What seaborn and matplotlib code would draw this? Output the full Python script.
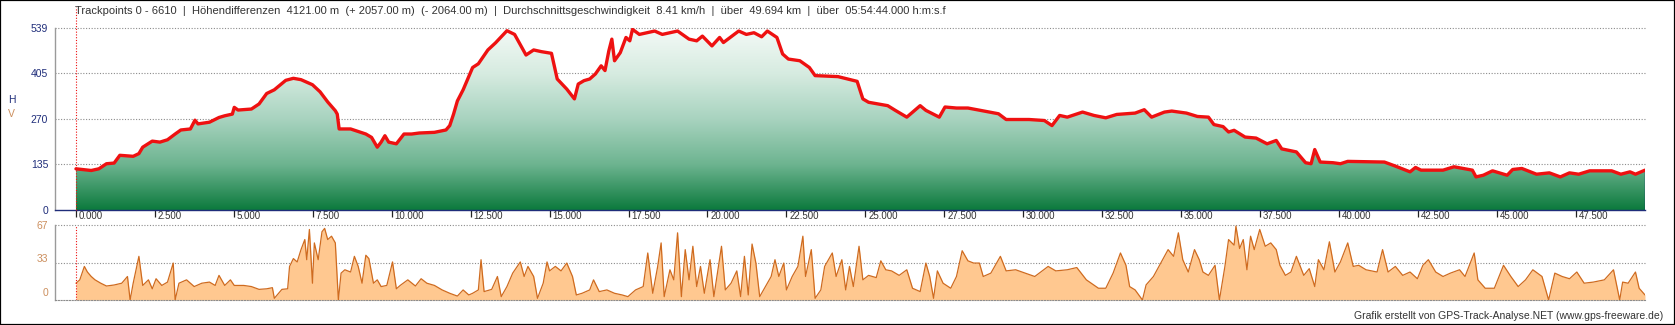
import numpy as np
import matplotlib
matplotlib.use('Agg')
import matplotlib.pyplot as plt
import seaborn as sns
from matplotlib.colors import LinearSegmentedColormap
from matplotlib.patches import Rectangle
import matplotlib.transforms as mtransforms

# ---------------- data ----------------
title_text = ("Trackpoints 0 - 6610  |  Höhendifferenzen  4121.00 m  (+ 2057.00 m)  (- 2064.00 m)  |  "
              "Durchschnittsgeschwindigkeit  8.41 km/h  |  über  49.694 km  |  über  05:54:44.000 h:m:s.f")
footer_text = "Grafik erstellt von GPS-Track-Analyse.NET (www.gps-freeware.de)"

# elevation profile: distance (m), height (m)
dist_e = [0, 483, 725, 966, 1208, 1389, 1812, 1993, 2114, 2416,
          2658, 2899, 3141, 3322, 3624, 3769, 3866, 4228, 4530, 4711,
          4953, 5013, 5134, 5557, 5798, 6040, 6282, 6644, 6886, 7127,
          7490, 7731, 7973, 8214, 8275, 8335, 8698, 9181, 9362, 9543,
          9664, 9785, 9905, 10147, 10389, 10630, 10872, 11355, 11718, 11838,
          11959, 12080, 12262, 12563, 12744, 13046, 13288, 13650, 13892, 14254,
          14496, 14738, 15060, 15242, 15545, 15787, 15908, 16089, 16271, 16452,
          16634, 16755, 16876, 16972, 17057, 17239, 17420, 17541, 17626, 17844,
          18086, 18328, 18570, 19054, 19417, 19659, 19840, 20143, 20385, 20506,
          20990, 21232, 21474, 21716, 21897, 22200, 22381, 22563, 22926, 23228,
          23410, 24136, 24741, 24922, 25104, 25709, 25951, 26314, 26737, 26919,
          27342, 27524, 27887, 28250, 29218, 29460, 30186, 30670, 30912, 31155,
          31397, 31880, 32243, 32616, 32964, 33545, 33835, 34067, 34474, 34706,
          35170, 35519, 35867, 36041, 36331, 36505, 36680, 37028, 37376, 37725,
          38015, 38189, 38653, 38944, 39118, 39234, 39408, 39815, 40047, 40279,
          41440, 41788, 42252, 42426, 42600, 43297, 43645, 44226, 44342, 44574,
          44865, 45329, 45503, 45793, 46258, 46664, 47012, 47303, 47593, 47942,
          48638, 48929, 49219, 49393, 49694]
elev = [122, 117, 122, 137, 139, 162, 159, 167, 186, 204,
        201, 208, 225, 237, 240, 266, 255, 260, 274, 279,
        284, 304, 296, 299, 314, 345, 356, 384, 390, 386,
        371, 350, 320, 294, 284, 240, 240, 225, 215, 186,
        201, 220, 201, 196, 225, 225, 228, 230, 237, 250,
        284, 323, 356, 422, 433, 474, 495, 531, 520, 459,
        474, 469, 464, 388, 358, 329, 373, 383, 388, 403,
        427, 413, 471, 506, 442, 466, 511, 501, 535, 520,
        525, 530, 520, 530, 506, 501, 515, 486, 511, 496,
        530, 520, 525, 513, 530, 511, 462, 447, 442, 422,
        398, 395, 381, 329, 319, 309, 295, 275, 309, 295,
        275, 305, 302, 302, 285, 268, 268, 265, 250, 280,
        275, 290, 280, 273, 283, 287, 297, 275, 290, 293,
        287, 277, 275, 253, 247, 231, 236, 216, 213, 196,
        206, 181, 172, 140, 137, 179, 142, 140, 137, 144,
        142, 130, 113, 126, 118, 118, 128, 118, 98, 103,
        116, 103, 120, 123, 106, 110, 98, 110, 106, 116,
        116, 106, 113, 106, 118]

# speed profile: distance (m), speed
dist_s = [0, 121, 266, 362, 483, 604, 785, 966, 1208, 1450,
          1631, 1715, 1812, 1993, 2114, 2295, 2416, 2537, 2718, 2899,
          3080, 3141, 3262, 3503, 3745, 3986, 4228, 4409, 4530, 4711,
          4892, 5013, 5315, 5557, 5798, 6040, 6221, 6282, 6523, 6704,
          6765, 6886, 7006, 7127, 7248, 7308, 7393, 7490, 7550, 7671,
          7792, 7876, 7973, 8094, 8214, 8311, 8396, 8516, 8698, 8818,
          8939, 9060, 9181, 9277, 9422, 9543, 9664, 9845, 10026, 10147,
          10268, 10510, 10751, 10932, 11114, 11355, 11597, 11838, 12080, 12262,
          12442, 12563, 12744, 12829, 12926, 13167, 13348, 13469, 13650, 13832,
          14073, 14194, 14315, 14496, 14617, 14798, 14919,
          15000, 15182, 15363, 15545, 15726, 15847, 16029, 16271, 16392, 16573,
          16815, 17057, 17299, 17481, 17723, 17965, 18110, 18267, 18424, 18533,
          18630, 18812, 18933, 19054, 19175, 19296, 19417, 19538, 19659, 19780,
          19901, 20082, 20203, 20445, 20566, 20748, 20929, 21050, 21171, 21292,
          21413, 21534, 21655, 21837, 22018, 22139, 22260, 22417, 22502, 22684,
          22865, 23022, 23107, 23289, 23410, 23591, 23712, 23954, 24075, 24257,
          24378, 24499, 24620, 24801, 24922, 25104, 25346, 25491, 25648, 25830,
          26072, 26314, 26495, 26737, 26919, 27040, 27161, 27282, 27463, 27705,
          27887, 28068, 28250, 28431, 28613, 28734, 28976, 29278, 29460, 29762,
          30065, 30367, 30791, 31033, 31396, 31698, 32001,
          32384, 32616, 32848, 33081, 33255, 33371, 33545, 33777, 33893, 34125,
          34358, 34590, 34764, 34915, 35054, 35228, 35426, 35577, 35693, 35867,
          36076, 36215, 36389, 36505, 36680, 36738, 36854, 36970, 37086, 37202,
          37318, 37492, 37666, 37841, 38015, 38131, 38305, 38479, 38653, 38886,
          39060, 39234, 39350, 39524, 39698, 39872, 40047, 40279, 40453, 40627,
          40859, 41208, 41382, 41556, 41788, 42020, 42252, 42485, 42659, 42833,
          43065, 43297, 43530, 43820, 43994, 44284, 44401, 44633, 44923, 45213,
          45445, 45677, 45910, 46142, 46432, 46641, 46838, 47071, 47303, 47535,
          47767, 48057, 48406, 48696, 48893, 48986, 49160, 49392, 49508, 49694]
speed = [15, 18, 30, 25, 21, 18, 15, 12.5, 13.4, 15,
         21, 0, 15, 39, 13, 18, 10, 19, 13, 16,
         33, 0, 15, 18, 12, 15, 16, 13, 22, 13,
         18, 13, 13, 12, 9.5, 10, 11, 1.5, 9.5, 10,
         30, 37, 34, 45, 54, 36, 63, 15, 51, 36,
         61, 64, 54, 57, 51, 0, 24, 27, 25, 39,
         30, 15, 40, 37, 15, 18, 12, 13, 34, 10,
         13, 18, 12.5, 19, 15, 13, 9, 6, 3.5, 9,
         4.5, 6, 9, 36, 7.5, 9.5, 21, 3, 12, 24,
         34, 21, 30, 21, 1.5, 15, 34,
         26, 30, 26, 33, 21, 4.5, 6, 9, 18, 7.5,
         9, 6, 4.5, 3, 9, 12, 42, 6, 30, 51,
         3, 27, 18, 60, 3, 45, 18, 48, 12, 30,
         6, 36, 3, 48, 9, 15, 26, 3, 39, 4.5,
         50, 33, 3, 12, 21, 36, 21, 33, 9, 21,
         30, 57, 21, 45, 1.5, 9, 30, 42, 21, 36,
         9, 30, 12, 48, 18, 22, 20, 35, 27, 26,
         22, 27, 10.5, 7.5, 33, 21, 1.5, 26, 15, 10.5,
         21, 44, 35, 33, 33, 21, 24, 39, 26, 27,
         24, 21, 30, 26, 27, 29, 18,
         10.5, 10.5, 24, 42, 31, 12, 9, 0, 13.5, 21,
         33, 45, 39, 60, 36, 25, 45, 36, 25, 22,
         31, 0, 30, 54, 49, 66, 46, 54, 27, 57,
         45, 63, 48, 51, 45, 31, 22, 25, 39, 22,
         28, 12, 36, 27, 52, 25, 34, 51, 30, 31,
         27, 25, 45, 25, 30, 22, 25, 19, 31, 36,
         25, 21, 24, 27, 21, 42, 18, 10.5, 10.5, 31,
         21, 12, 18, 27, 21, 0, 24, 21, 19, 25,
         15, 16, 18, 27, 0, 16, 15, 25, 10.5, 4.5]

elev_ticks = [0, 135, 270, 405, 539]
speed_ticks = [0, 33, 67]
dist_ticks = list(range(0, 49694, 2500))
dist_tick_labels = [f"{t/1000:.3f}" for t in dist_ticks]

# ---------------- style ----------------
sns.set_theme(style='white')
plt.rcParams['font.family'] = ['Liberation Sans', 'DejaVu Sans']

W, H = 1675, 325
fig = plt.figure(figsize=(W / 100, H / 100), dpi=100)
fig.patch.set_facecolor('white')


def px_rect(l, t, r, b):
    return [l / W, 1 - b / H, (r - l) / W, (b - t) / H]


ax1 = fig.add_axes(px_rect(54.5, 28, 1645, 210))
ax2 = fig.add_axes(px_rect(54.5, 225, 1645, 300))

NAVY = '#1f2d7a'
TAN = '#cc8f5e'
GRID = '#8c8c8c'
x0 = -680
x1 = dist_e[-1]

# ---------------- elevation ----------------
ax1.set_xlim(x0, x1)
ax1.set_ylim(0, 539)
poly = ax1.fill_between(dist_e, 0, elev, facecolor='none', edgecolor='none')
cmap = LinearSegmentedColormap.from_list(
    'grn', [(0.0, '#0c7a3d'), (0.25, '#6db490'), (0.5, '#a8d3bf'),
            (0.75, '#d6ebe0'), (1.0, '#f4faf7')])
grad = np.linspace(0, 1, 256).reshape(-1, 1)
im = ax1.imshow(grad, extent=[x0, x1, 0, 539], origin='lower', aspect='auto',
                cmap=cmap, zorder=1, interpolation='bilinear')
im.set_clip_path(poly.get_paths()[0], transform=ax1.transData)

for v in elev_ticks[1:]:
    ax1.axhline(v, color=GRID, lw=0.8, ls=(0, (1, 1.5)), zorder=0.5, clip_on=False)

sns.lineplot(x=dist_e, y=elev, ax=ax1, color='#ee1111', lw=2.4, zorder=4,
             estimator=None, sort=False)
ax1.vlines(dist_e[-1], 0, elev[-1], color='#1b2a6b', lw=1.0, zorder=3)
ax1.axvline(0, ymin=0, ymax=1.115, color='#ee1111', lw=0.8, ls=(0, (1, 1.5)),
            clip_on=False, zorder=5)

for s in ['top', 'right']:
    ax1.spines[s].set_visible(False)
ax1.spines['left'].set_color('#9a9a9a')
ax1.spines['left'].set_linewidth(1.0)
ax1.spines['bottom'].set_color(NAVY)
ax1.spines['bottom'].set_linestyle((0, (1, 1)))
ax1.spines['bottom'].set_linewidth(1.0)

ax1.set_yticks(elev_ticks)
ax1.set_yticklabels([str(v) for v in elev_ticks], color=NAVY, fontsize=7.5)
ax1.tick_params(axis='y', length=0, pad=4.5)
ax1.set_xticks(dist_ticks)
ax1.set_xticklabels(dist_tick_labels, ha='left', fontsize=7, color='#333333')
ax1.tick_params(axis='x', direction='out', length=5, width=0.9, color='#222222',
                pad=-4.6, bottom=True)
off = mtransforms.ScaledTranslation(3 / 100, 0, fig.dpi_scale_trans)
for lbl in ax1.get_xticklabels():
    lbl.set_transform(lbl.get_transform() + off)
ax1.set_xlabel('')
ax1.set_ylabel('')
ax1.grid(False)

# ---------------- speed ----------------
ax2.set_xlim(x0, x1)
ax2.set_ylim(0, 67)
ax2.fill_between(dist_s, 0, speed, color='#ffc890', lw=0, zorder=1)
sns.lineplot(x=dist_s, y=speed, ax=ax2, color='#cf6b1f', lw=0.9, zorder=3,
             estimator=None, sort=False)
for v in speed_ticks[1:]:
    ax2.axhline(v, color=GRID, lw=0.8, ls=(0, (1, 1.5)), zorder=0.5, clip_on=False)
ax2.axvline(0, color='#ee1111', lw=0.8, ls=(0, (1, 1.5)), zorder=5)
for s in ['top', 'right']:
    ax2.spines[s].set_visible(False)
ax2.spines['left'].set_color('#9a9a9a')
ax2.spines['left'].set_linewidth(1.0)
ax2.spines['bottom'].set_color(GRID)
ax2.spines['bottom'].set_linestyle((0, (1, 1.5)))
ax2.spines['bottom'].set_linewidth(0.8)
ax2.set_xticks([])
ax2.set_yticks(speed_ticks)
ax2.set_yticklabels([str(v) for v in speed_ticks], color=TAN, fontsize=7.5)
ax2.tick_params(axis='y', length=0, pad=4.5)
shifts = [8, 5, 0]
for lbl, sh in zip(ax2.get_yticklabels(), shifts):
    lbl.set_transform(lbl.get_transform() +
                      mtransforms.ScaledTranslation(0, sh / 100, fig.dpi_scale_trans))
ax2.set_xlabel('')
ax2.set_ylabel('')
ax2.grid(False)

# ---------------- texts ----------------
fig.text(75 / W, 1 - 11 / H, title_text, fontsize=8, color='#333333', va='center', ha='left')
fig.text(8 / W, 1 - 100 / H, 'H', fontsize=7.5, color=NAVY, va='center', ha='left')
fig.text(8 / W, 1 - 114 / H, 'V', fontsize=7.5, color=TAN, va='center', ha='left')
fig.text(1663 / W, 1 - 316 / H, footer_text, fontsize=7.5, color='#333333',
         va='center', ha='right')

fig.add_artist(Rectangle((0, 0), 1, 1, transform=fig.transFigure, fill=False,
                         edgecolor='black', lw=1.6))

fig.savefig('out.png', dpi=100)
